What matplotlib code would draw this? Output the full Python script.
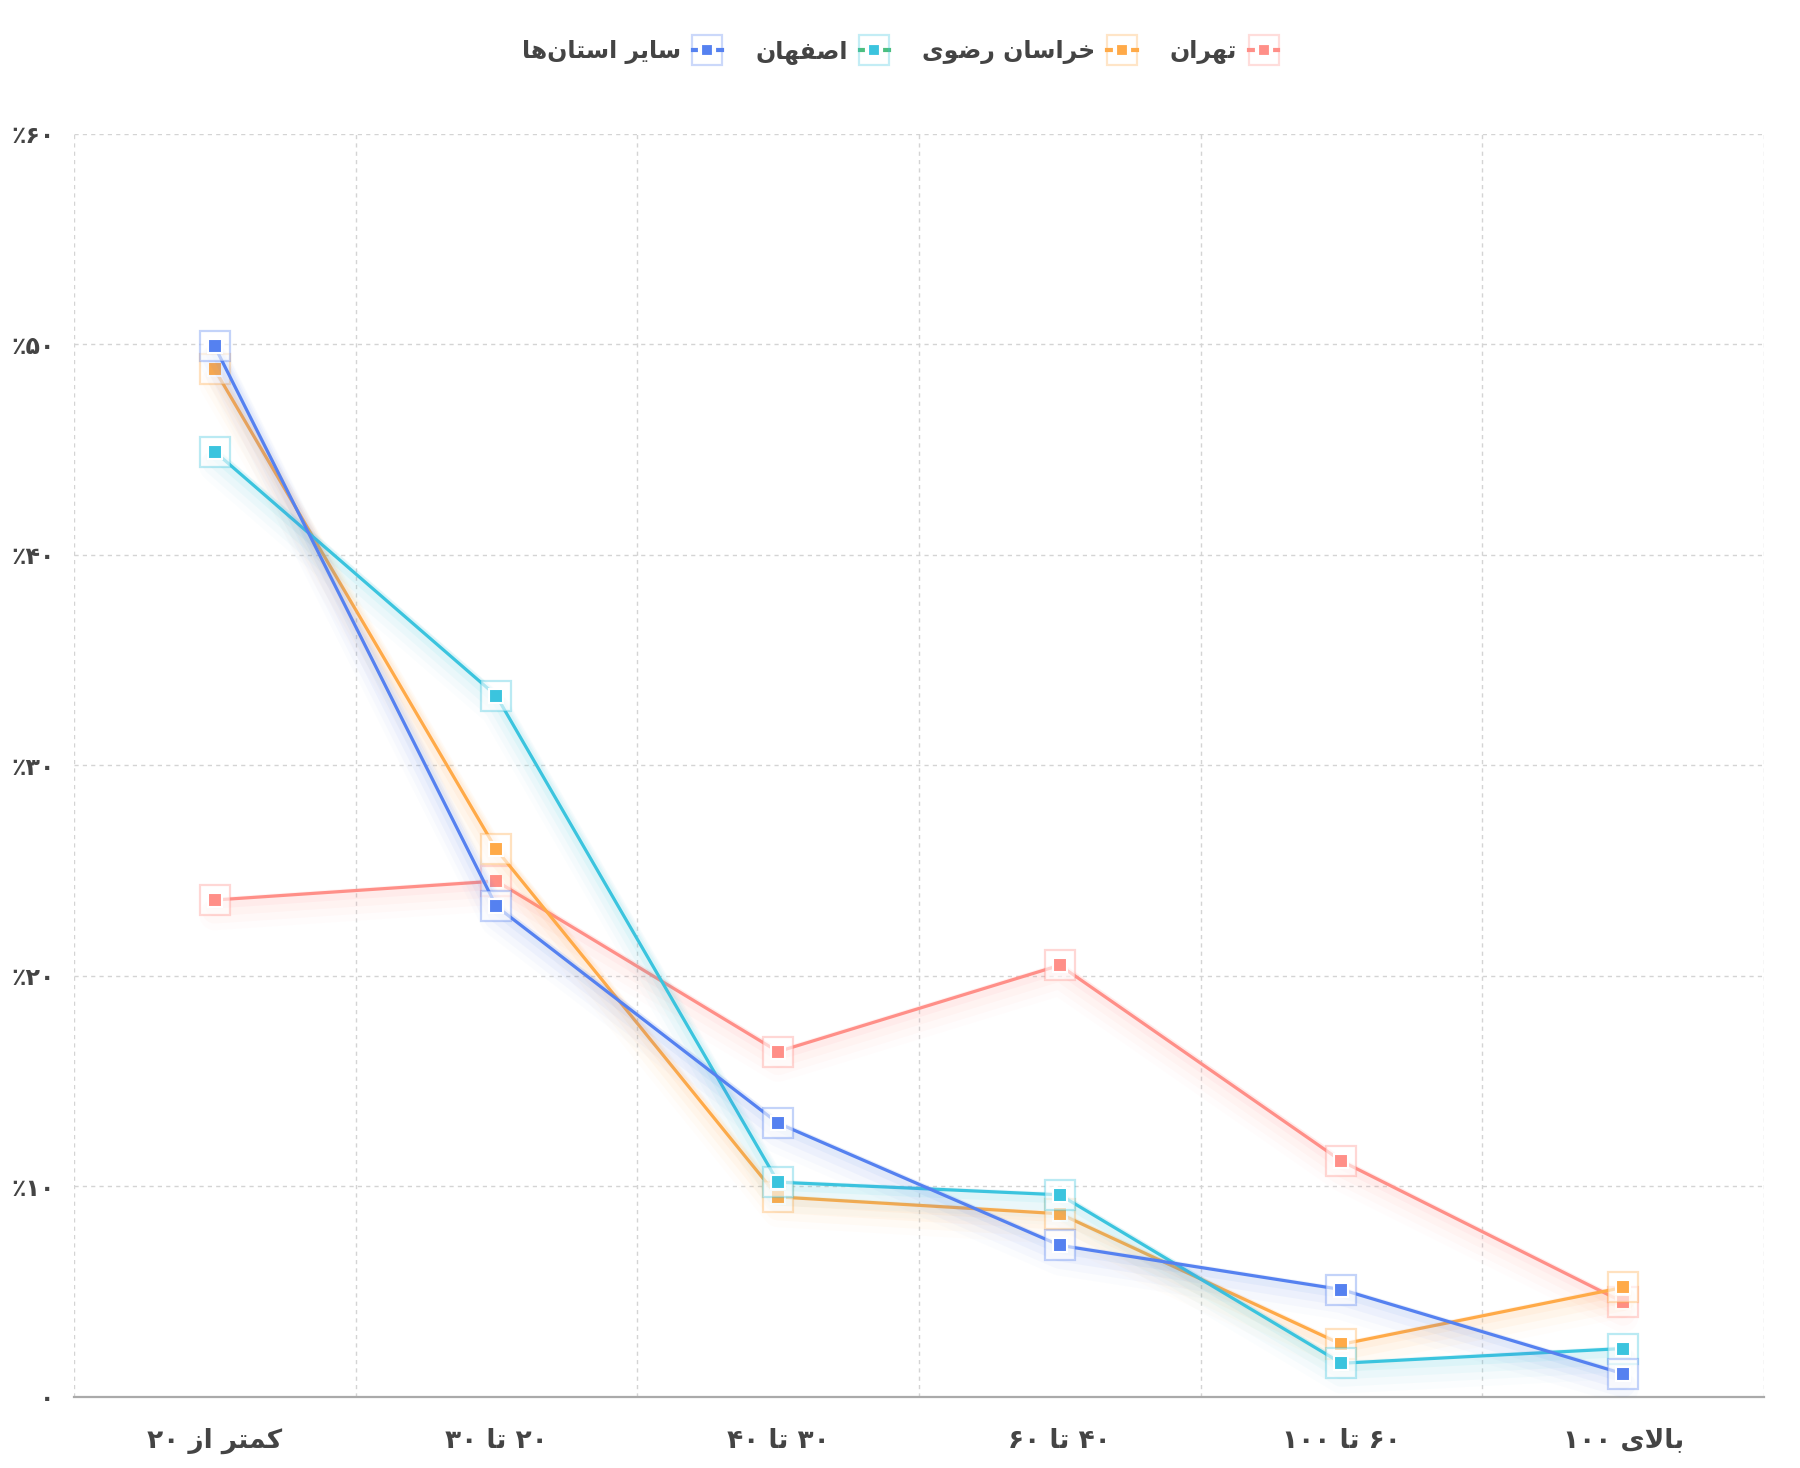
import re
import matplotlib
matplotlib.use("Agg")
import matplotlib.pyplot as plt
from matplotlib.lines import Line2D
from matplotlib.legend_handler import HandlerTuple
from matplotlib import transforms
from matplotlib.colors import to_rgba


# Data
categories = ['کمتر از ۲۰', '۲۰ تا ۳۰', '۳۰ تا ۴۰', '۴۰ تا ۶۰', '۶۰ تا ۱۰۰', 'بالای ۱۰۰']
series_names = ['تهران', 'خراسان رضوی', 'اصفهان', 'سایر استان‌ها']
tehran = [23.6, 24.5, 16.4, 20.5, 11.2, 4.5]
khorasan = [48.8, 26.0, 9.5, 8.7, 2.5, 5.2]
isfahan = [44.9, 33.3, 10.2, 9.6, 1.6, 2.3]
others = [49.9, 23.3, 13.0, 7.2, 5.1, 1.1]
y_ticks = [0, 10, 20, 30, 40, 50, 60]

colors = ['#ff8f88', '#ffaa48', '#3bc4de', '#5581f0']
legend_dash_colors = ['#ff8f88', '#ffaa48', '#4cbf80', '#5581f0']


# Minimal Persian shaping (matplotlib has no text shaping / bidi)
# forms: isolated, final, initial, medial
FORMS = {
    '\u0627': ('\uFE8D', '\uFE8E', None, None),
    '\u0628': ('\uFE8F', '\uFE90', '\uFE91', '\uFE92'),
    '\u062A': ('\uFE95', '\uFE96', '\uFE97', '\uFE98'),
    '\u062E': ('\uFEA5', '\uFEA6', '\uFEA7', '\uFEA8'),
    '\u0631': ('\uFEAD', '\uFEAE', None, None),
    '\u0632': ('\uFEAF', '\uFEB0', None, None),
    '\u0633': ('\uFEB1', '\uFEB2', '\uFEB3', '\uFEB4'),
    '\u0635': ('\uFEB9', '\uFEBA', '\uFEBB', '\uFEBC'),
    '\u0636': ('\uFEBD', '\uFEBE', '\uFEBF', '\uFEC0'),
    '\u0641': ('\uFED1', '\uFED2', '\uFED3', '\uFED4'),
    '\u0644': ('\uFEDD', '\uFEDE', '\uFEDF', '\uFEE0'),
    '\u0645': ('\uFEE1', '\uFEE2', '\uFEE3', '\uFEE4'),
    '\u0646': ('\uFEE5', '\uFEE6', '\uFEE7', '\uFEE8'),
    '\u0647': ('\uFEE9', '\uFEEA', '\uFEEB', '\uFEEC'),
    '\u0648': ('\uFEED', '\uFEEE', None, None),
    '\u06CC': ('\uFBFC', '\uFBFD', '\uFBFE', '\uFBFF'),
    '\u06A9': ('\uFB8E', '\uFB8F', '\uFB90', '\uFB91'),
}


def shape(text):
    out = []
    i, n = 0, len(text)
    while i < n:
        c = text[i]
        if c not in FORMS:
            if c != '\u200c':
                out.append(c)
            i += 1
            continue
        prev = text[i - 1] if i > 0 else None
        link_prev = prev in FORMS and FORMS[prev][2] is not None
        if c == '\u0644' and i + 1 < n and text[i + 1] == '\u0627':
            out.append('\uFEFC' if link_prev else '\uFEFB')
            i += 2
            continue
        nxt = text[i + 1] if i + 1 < n else None
        link_next = FORMS[c][2] is not None and nxt in FORMS
        iso, fin, ini, med = FORMS[c]
        if link_prev and link_next:
            out.append(med)
        elif link_prev:
            out.append(fin)
        elif link_next:
            out.append(ini)
        else:
            out.append(iso)
        i += 1
    return ''.join(out)


def visual(text):
    s = shape(text)[::-1]
    return re.sub('[\u06F0-\u06F9]+', lambda m: m.group()[::-1], s)


def to_fa(num):
    return str(num).translate(str.maketrans('0123456789', '۰۱۲۳۴۵۶۷۸۹'))


FONT = ['DejaVu Sans']
TEXT_COLOR = '#444444'

fig = plt.figure(figsize=(18, 14.68), dpi=100)
ax = fig.add_axes([0.041, 0.0484, 0.939, 0.8606])

x = list(range(len(categories)))
all_series = [tehran, khorasan, isfahan, others]

for values, color, k in zip(all_series, colors, range(4)):
    z = 3 + k
    # soft glow below the line
    for off, lw, a in [(3, 8, 0.07), (7, 13, 0.05), (11, 18, 0.035), (15, 22, 0.02)]:
        tr = transforms.offset_copy(ax.transData, fig=fig, x=0, y=-off, units='dots')
        ax.plot(x, values, color=color, lw=lw, alpha=a, transform=tr,
                solid_capstyle='round', zorder=z)
    ax.plot(x, values, color=color, lw=2.3, zorder=z + 0.1)
    ax.plot(x, values, ls='none', marker='s', ms=21, mfc=(1, 1, 1, 0.6),
            mec=to_rgba(color, 0.35), mew=1.6, zorder=z + 0.2)
    ax.plot(x, values, ls='none', marker='s', ms=10, mfc=color,
            mec='white', mew=1.5, zorder=z + 0.3)

ax.set_xlim(-0.5, len(categories) - 0.5)
ax.set_ylim(0, 60)
ax.set_xticks(x)
ax.set_xticklabels([visual(c) for c in categories])
ax.set_xticks([i - 0.5 for i in range(len(categories) + 1)], minor=True)
ax.set_yticks(y_ticks)
ax.set_yticklabels([to_fa(v) if v == 0 else visual(to_fa(v) + '٪') for v in y_ticks])

for lbl in ax.get_xticklabels() + ax.get_yticklabels():
    lbl.set_family(FONT)
    lbl.set_fontweight('bold')
    lbl.set_color(TEXT_COLOR)
for lbl in ax.get_xticklabels():
    lbl.set_fontsize(19)
for lbl in ax.get_yticklabels():
    lbl.set_fontsize(17)

ax.tick_params(axis='both', which='both', length=0)
ax.tick_params(axis='x', pad=22)
ax.tick_params(axis='y', pad=14)

ax.grid(True, axis='y', which='major', color='#d4d4d4', ls=(0, (3, 3)), lw=1.0)
ax.grid(True, axis='x', which='minor', color='#d4d4d4', ls=(0, (3, 3)), lw=1.0)
ax.grid(False, axis='x', which='major')
for side in ['top', 'left', 'right']:
    ax.spines[side].set_visible(False)
ax.spines['bottom'].set_color('#aaaaaa')
ax.spines['bottom'].set_linewidth(1.6)

# Legend (RTL: label left of marker, first series on the right)
handles = []
for color, dash_color in zip(colors, legend_dash_colors):
    dash = Line2D([], [], color=dash_color, lw=3.0)
    outer = Line2D([], [], ls='none', marker='s', ms=21, mfc='none',
                   mec=to_rgba(color, 0.3), mew=1.6)
    inner = Line2D([], [], ls='none', marker='s', ms=10, mfc=color,
                   mec='white', mew=3.0)
    handles.append((dash, outer, inner))
labels = [visual(n) for n in series_names]

leg = fig.legend(handles[::-1], labels[::-1], loc='center', bbox_to_anchor=(0.5, 0.965),
                 ncol=4, frameon=False, markerfirst=False, handlelength=1.25,
                 handletextpad=0.5, columnspacing=1.4,
                 handler_map={tuple: HandlerTuple(ndivide=1)},
                 prop={'family': FONT, 'size': 17, 'weight': 'bold'})
for t in leg.get_texts():
    t.set_color(TEXT_COLOR)

fig.savefig('out.png', dpi=100, facecolor='white')
